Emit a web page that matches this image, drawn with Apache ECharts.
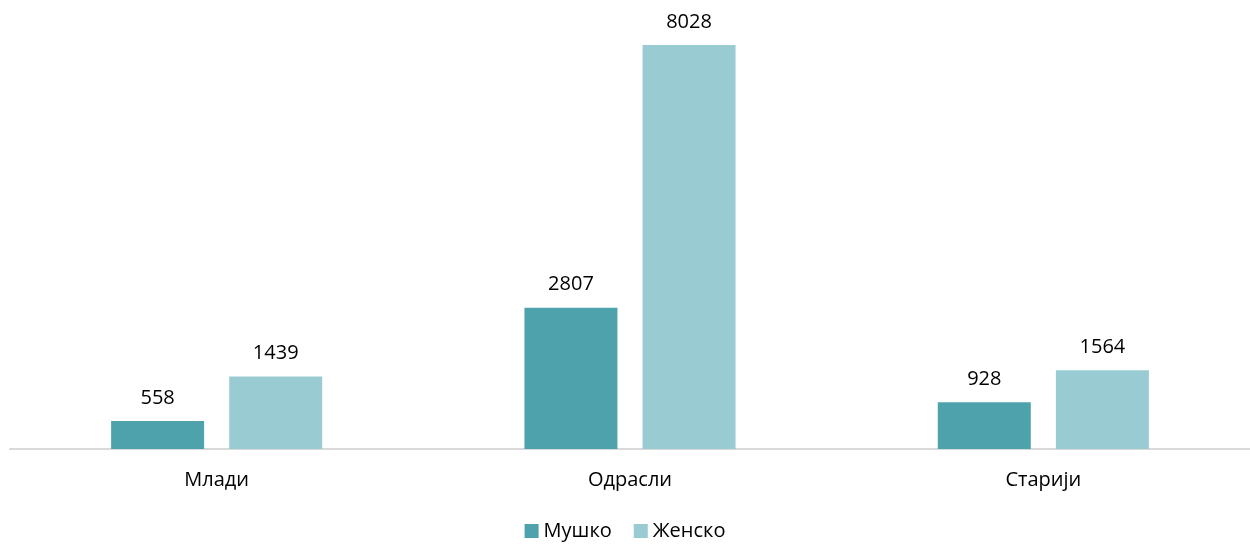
<!DOCTYPE html>
<html>
<head>
<meta charset="utf-8">
<script src="https://cdn.jsdelivr.net/npm/echarts@6/dist/echarts.min.js"></script>
<style>
    html, body { margin: 0; padding: 0; background: #fff; }
    #chart { width: 1250px; height: 546px; }
</style>
</head>
<body>
<div id="chart"></div>
<script>
'use strict';

var categories = ['Млади', 'Одрасли', 'Старији'];
var seriesNames = ['Мушко', 'Женско'];
var maleValues = [558, 2807, 928];
var femaleValues = [1439, 8028, 1564];

var colors = ['#4ea2ac', '#98cbd2'];
var font = '"Open Sans", "Noto Sans", sans-serif';

var chart = echarts.init(document.getElementById('chart'));

function barSeries(name, data, color) {
    return {
        name: name,
        type: 'bar',
        data: data,
        barWidth: 93,
        barGap: '27%',
        itemStyle: { color: color },
        label: {
            show: true,
            position: 'top',
            distance: 13,
            color: '#000',
            fontSize: 20,
            fontFamily: font
        }
    };
}

chart.setOption({
    animation: false,
    grid: { left: 10, right: 0, top: 45, bottom: 97 },
    legend: {
        bottom: 0,
        left: 'center',
        itemWidth: 14,
        itemHeight: 14,
        itemGap: 22,
        icon: 'rect',
        textStyle: { fontSize: 20, color: '#000', fontFamily: font },
        data: seriesNames
    },
    xAxis: {
        type: 'category',
        data: categories,
        axisLine: { lineStyle: { color: '#d9d9d9', width: 2 } },
        axisTick: { show: false },
        axisLabel: { fontSize: 20, color: '#000', fontFamily: font, margin: 21 }
    },
    yAxis: {
        type: 'value',
        min: 0,
        max: 8028,
        show: false,
        splitLine: { show: false }
    },
    series: [
        barSeries(seriesNames[0], maleValues, colors[0]),
        barSeries(seriesNames[1], femaleValues, colors[1])
    ]
});
</script>
</body>
</html>
